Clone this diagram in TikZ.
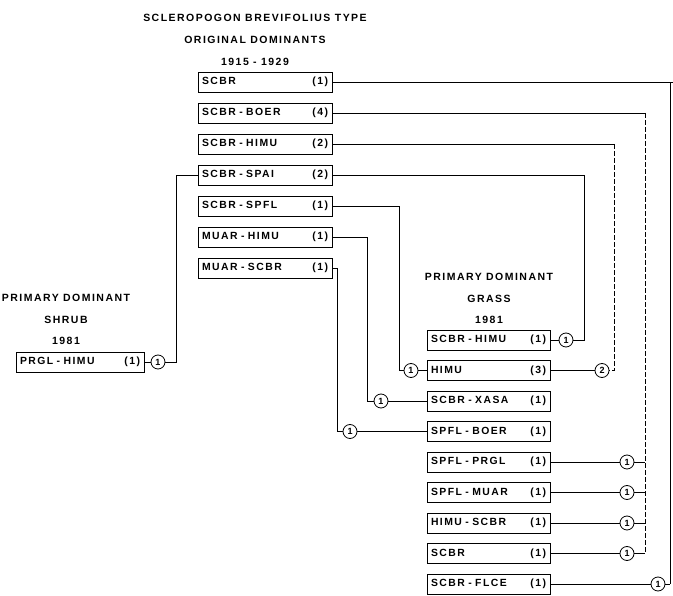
\documentclass[tikz,border=0pt]{standalone}
\usepackage{fontspec}
\setmainfont{Liberation Sans}[LetterSpace=14]
\begin{document}
\begin{tikzpicture}[x=1pt,y=-1pt,
  lbl/.style={font=\bfseries\fontsize{10.5}{11}\selectfont, inner sep=0pt},
  topbox/.style={draw, line width=0.9pt, minimum height=20pt, minimum width=134pt, text width=126pt, inner xsep=4pt, inner ysep=0pt, font=\bfseries\fontsize{10.4}{11}\selectfont},
  botbox/.style={draw, line width=0.9pt, minimum height=20pt, minimum width=123pt, text width=115pt, inner xsep=4pt, inner ysep=0pt, font=\bfseries\fontsize{10.4}{11}\selectfont},
  circ/.style={draw, circle, line width=0.8pt, inner sep=0pt, minimum size=14pt, font=\bfseries\fontsize{9}{9}\selectfont},
  conn/.style={line width=0.7pt},
  dconn/.style={line width=0.7pt, dash pattern=on 5pt off 2pt}]
\useasboundingbox (0,0) rectangle (673,596);
% titles
\node[lbl] (ta) at (255,18) {SCLEROPOGON BREVIFOLIUS TYPE};
\node[lbl] (tb) at (255,40) {ORIGINAL DOMINANTS};
\node[lbl] (tc) at (255,62) {1915 - 1929};
\node[lbl] (la) at (66,298) {PRIMARY DOMINANT};
\node[lbl] (lb) at (66,320) {SHRUB};
\node[lbl] (lc) at (66,341) {1981};
\node[lbl] (ra) at (489,277) {PRIMARY DOMINANT};
\node[lbl] (rb) at (489,299) {GRASS};
\node[lbl] (rc) at (489,320) {1981};
% original dominants
\node[topbox] (t1) at (265,82) {SCBR\hfill(1)};
\node[topbox] (t2) at (265,113) {SCBR - BOER\hfill(4)};
\node[topbox] (t3) at (265,144) {SCBR - HIMU\hfill(2)};
\node[topbox] (t4) at (265,175) {SCBR - SPAI\hfill(2)};
\node[topbox] (t5) at (265,206) {SCBR - SPFL\hfill(1)};
\node[topbox] (t6) at (265,237) {MUAR - HIMU\hfill(1)};
\node[topbox] (t7) at (265,268) {MUAR - SCBR\hfill(1)};
% shrub
\node[topbox, minimum width=128pt, text width=120pt] (p) at (80,362) {PRGL - HIMU\hfill(1)};
\node[circ] (pc) at (158,362) {1};
% grass
\node[botbox] (g1) at (488.5,340) {SCBR - HIMU\hfill(1)};
\node[botbox] (g2) at (488.5,370.5) {HIMU\hfill(3)};
\node[botbox] (g3) at (488.5,401) {SCBR - XASA\hfill(1)};
\node[botbox] (g4) at (488.5,431.5) {SPFL - BOER\hfill(1)};
\node[botbox] (g5) at (488.5,462) {SPFL - PRGL\hfill(1)};
\node[botbox] (g6) at (488.5,492.5) {SPFL - MUAR\hfill(1)};
\node[botbox] (g7) at (488.5,523) {HIMU - SCBR\hfill(1)};
\node[botbox] (g8) at (488.5,553.5) {SCBR\hfill(1)};
\node[botbox] (g9) at (488.5,584) {SCBR - FLCE\hfill(1)};
% circles
\node[circ] (g1c) at (566,340) {1};
\node[circ] (g2l) at (411,370.5) {1};
\node[circ] (g2r) at (602,370.5) {2};
\node[circ] (g3c) at (381,401) {1};
\node[circ] (g4c) at (350,431.5) {1};
\node[circ] (g5c) at (627,462) {1};
\node[circ] (g6c) at (627,492.5) {1};
\node[circ] (g7c) at (627,523) {1};
\node[circ] (g8c) at (627,553.5) {1};
\node[circ] (g9c) at (658,584) {1};
% bend points
\coordinate (kp) at (176,362);
\coordinate (k1a) at (673,82);
\coordinate (k1) at (670,584);
\coordinate (k2a) at (645,113);
\coordinate (k25) at (645,462);
\coordinate (k26) at (645,492.5);
\coordinate (k27) at (645,523);
\coordinate (k28) at (645,553.5);
\coordinate (k3a) at (614,144);
\coordinate (k3) at (614,370.5);
\coordinate (k4) at (584,340);
\coordinate (k5) at (399,370.5);
\coordinate (k6) at (367,401);
\coordinate (k7) at (337,431.5);
% connectors
\draw[conn] (p.east) -- (pc.west);
\draw[conn] (pc.east) -- (kp) |- (t4.west);
\draw[conn] (t1.east) -- (k1a);
\draw[conn] (k1) -- (k1 |- k1a);
\draw[conn] (g9c.east) -- (k1);
\draw[conn] (t2.east) -- (k2a);
\draw[dconn] (k2a) -- (k28);
\draw[conn] (g5c.east) -- (k25);
\draw[conn] (g6c.east) -- (k26);
\draw[conn] (g7c.east) -- (k27);
\draw[conn] (g8c.east) -- (k28);
\draw[conn] (t3.east) -- (k3a);
\draw[dconn] (k3a) -- (k3) -- (g2r.east);
\draw[conn] (t4.east) -| (k4) -- (g1c.east);
\draw[conn] (t5.east) -| (k5) -- (g2l.west);
\draw[conn] (t6.east) -| (k6) -- (g3c.west);
\draw[conn] (t7.east) -| (k7) -- (g4c.west);
\draw[conn] (g1.east) -- (g1c.west);
\draw[conn] (g2l.east) -- (g2.west);
\draw[conn] (g2.east) -- (g2r.west);
\draw[conn] (g3c.east) -- (g3.west);
\draw[conn] (g4c.east) -- (g4.west);
\draw[conn] (g5.east) -- (g5c.west);
\draw[conn] (g6.east) -- (g6c.west);
\draw[conn] (g7.east) -- (g7c.west);
\draw[conn] (g8.east) -- (g8c.west);
\draw[conn] (g9.east) -- (g9c.west);
\end{tikzpicture}
\end{document}
